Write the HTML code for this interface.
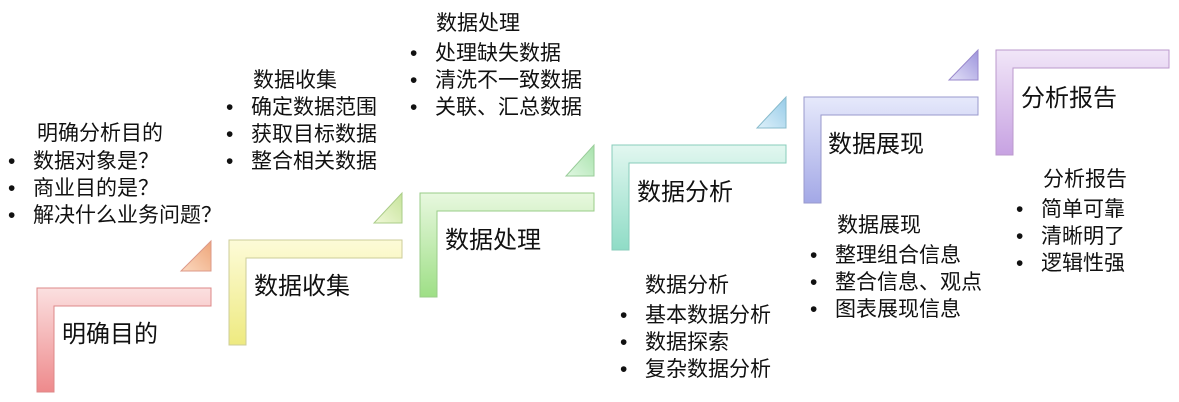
<!DOCTYPE html>
<html><head><meta charset="utf-8"><style>
body{margin:0;width:1179px;height:402px;background:#fff;position:relative;overflow:hidden;font-family:"Liberation Sans","Noto Sans CJK SC",sans-serif;color:#111}
.t{position:absolute;font-size:21px;line-height:27px;white-space:nowrap}
.m{position:absolute;font-size:24px;white-space:nowrap}
ul{margin:0;padding:0;list-style:none}
li:before{content:"•";display:inline-block;width:23px;text-indent:-2px}
</style></head><body>
<svg width="1179" height="402" style="position:absolute;left:0;top:0">
<defs>
<linearGradient id="g0" x1="0" y1="0" x2="0" y2="1"><stop offset="0" stop-color="#fbe0e0"/><stop offset="1" stop-color="#ee8a8c"/></linearGradient>
<linearGradient id="g1" x1="0" y1="0" x2="0" y2="1"><stop offset="0" stop-color="#fdfbd8"/><stop offset="1" stop-color="#eeea80"/></linearGradient>
<linearGradient id="g2" x1="0" y1="0" x2="0" y2="1"><stop offset="0" stop-color="#e8f8df"/><stop offset="1" stop-color="#9edf86"/></linearGradient>
<linearGradient id="g3" x1="0" y1="0" x2="0" y2="1"><stop offset="0" stop-color="#e2f7f0"/><stop offset="1" stop-color="#8fdcc6"/></linearGradient>
<linearGradient id="g4" x1="0" y1="0" x2="0" y2="1"><stop offset="0" stop-color="#e6e9fb"/><stop offset="1" stop-color="#a3a8e6"/></linearGradient>
<linearGradient id="g5" x1="0" y1="0" x2="0" y2="1"><stop offset="0" stop-color="#f1e6f8"/><stop offset="1" stop-color="#c7a2e2"/></linearGradient>
<linearGradient id="t0" x1="0" y1="1" x2="1" y2="0"><stop offset="0" stop-color="#fbd9c0"/><stop offset="1" stop-color="#eea579"/></linearGradient>
<linearGradient id="t1" x1="0" y1="1" x2="1" y2="0"><stop offset="0" stop-color="#f0f8d8"/><stop offset="1" stop-color="#c6e39a"/></linearGradient>
<linearGradient id="t2" x1="0" y1="1" x2="1" y2="0"><stop offset="0" stop-color="#e0f7e2"/><stop offset="1" stop-color="#a7e2ab"/></linearGradient>
<linearGradient id="t3" x1="0" y1="1" x2="1" y2="0"><stop offset="0" stop-color="#dff1fa"/><stop offset="1" stop-color="#96cbe8"/></linearGradient>
<linearGradient id="t4" x1="0" y1="1" x2="1" y2="0"><stop offset="0" stop-color="#e4e2f8"/><stop offset="1" stop-color="#9d94dc"/></linearGradient>
</defs>
<g stroke-width="1">
<path d="M37 288H211V306H54V392H37Z" fill="url(#g0)" stroke="#d88"/>
<path d="M229 240H402V258H246V345H229Z" fill="url(#g1)" stroke="#cc9"/>
<path d="M420 193H594V211H437V297H420Z" fill="url(#g2)" stroke="#9c8"/>
<path d="M612 145H786V163H629V250H612Z" fill="url(#g3)" stroke="#8cb"/>
<path d="M804 97H978V115H821V203H804Z" fill="url(#g4)" stroke="#99c"/>
<path d="M996 50H1169V68H1013V155H996Z" fill="url(#g5)" stroke="#b9c"/>
<path d="M211 241V271H181Z" fill="url(#t0)" stroke="#d98"/>
<path d="M402 193V223H374Z" fill="url(#t1)" stroke="#ac8"/>
<path d="M594 145V176H566Z" fill="url(#t2)" stroke="#9c9"/>
<path d="M786 97V128H757Z" fill="url(#t3)" stroke="#8bc"/>
<path d="M978 50V80H949Z" fill="url(#t4)" stroke="#98c"/>
</g></svg>
<div class="m" style="left:62px;top:314px">明确目的</div>
<div class="m" style="left:254px;top:266px">数据收集</div>
<div class="m" style="left:445px;top:220px">数据处理</div>
<div class="m" style="left:637px;top:172px">数据分析</div>
<div class="m" style="left:828px;top:124px">数据展现</div>
<div class="m" style="left:1021px;top:78px">分析报告</div>
<div class="t" style="left:37px;top:120px">明确分析目的</div>
<div class="t" style="left:10px;top:148px"><ul><li>数据对象是？</li><li>商业目的是？</li><li>解决什么业务问题？</li></ul></div>
<div class="t" style="left:253px;top:67px">数据收集</div>
<div class="t" style="left:228px;top:94px"><ul><li>确定数据范围</li><li>获取目标数据</li><li>整合相关数据</li></ul></div>
<div class="t" style="left:436px;top:10px">数据处理</div>
<div class="t" style="left:412px;top:40px"><ul><li>处理缺失数据</li><li>清洗不一致数据</li><li>关联、汇总数据</li></ul></div>
<div class="t" style="left:645px;top:272px">数据分析</div>
<div class="t" style="left:622px;top:302px"><ul><li>基本数据分析</li><li>数据探索</li><li>复杂数据分析</li></ul></div>
<div class="t" style="left:837px;top:212px">数据展现</div>
<div class="t" style="left:812px;top:242px"><ul><li>整理组合信息</li><li>整合信息、观点</li><li>图表展现信息</li></ul></div>
<div class="t" style="left:1043px;top:166px">分析报告</div>
<div class="t" style="left:1018px;top:196px"><ul><li>简单可靠</li><li>清晰明了</li><li>逻辑性强</li></ul></div>
</body></html>
